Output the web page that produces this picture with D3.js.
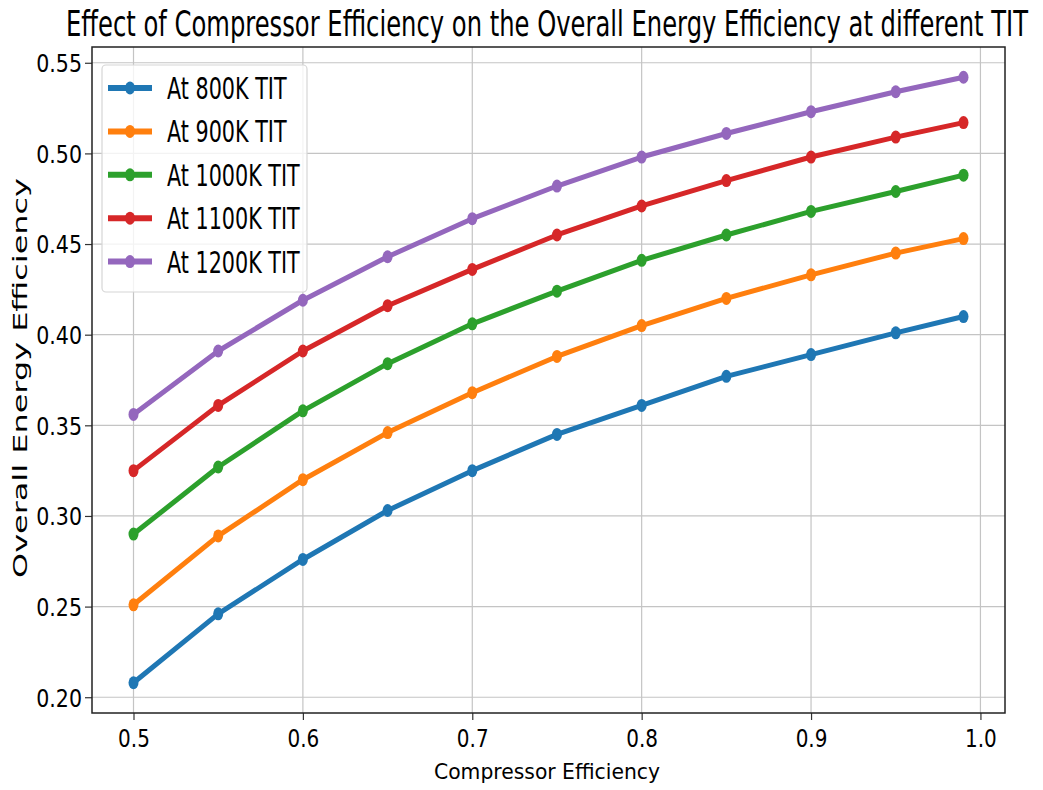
<!DOCTYPE html>
<html>
<head>
<meta charset="utf-8">
<script src="https://cdn.jsdelivr.net/npm/d3@7"></script>
<style>
  body { margin: 0; background: #fff; }
  text { font-family: "DejaVu Sans", sans-serif; fill: #000; }
</style>
</head>
<body>
<svg id="chart" width="1043" height="790"></svg>
<script>
// compressor efficiency (x) and overall energy efficiency per TIT
const compEff = [0.5, 0.55, 0.6, 0.65, 0.7, 0.75, 0.8, 0.85, 0.9, 0.95, 0.99];
const tit800  = [0.208, 0.246, 0.276, 0.303, 0.325, 0.345, 0.361, 0.377, 0.389, 0.401, 0.410];
const tit900  = [0.251, 0.289, 0.320, 0.346, 0.368, 0.388, 0.405, 0.420, 0.433, 0.445, 0.453];
const tit1000 = [0.290, 0.327, 0.358, 0.384, 0.406, 0.424, 0.441, 0.455, 0.468, 0.479, 0.488];
const tit1100 = [0.325, 0.361, 0.391, 0.416, 0.436, 0.455, 0.471, 0.485, 0.498, 0.509, 0.517];
const tit1200 = [0.356, 0.391, 0.419, 0.443, 0.464, 0.482, 0.498, 0.511, 0.523, 0.534, 0.542];
const seriesNames = ["At 800K TIT", "At 900K TIT", "At 1000K TIT", "At 1100K TIT", "At 1200K TIT"];
const xTicks = [0.5, 0.6, 0.7, 0.8, 0.9, 1.0];
const yTicks = [0.20, 0.25, 0.30, 0.35, 0.40, 0.45, 0.50, 0.55];

const series = [tit800, tit900, tit1000, tit1100, tit1200].map((vals, i) => ({
  name: seriesNames[i],
  values: vals.map((v, j) => ({ x: compEff[j], y: v }))
}));

const colors = d3.scaleOrdinal()
  .domain(seriesNames)
  .range(["#1f77b4", "#ff7f0e", "#2ca02c", "#d62728", "#9467bd"]);

const svg = d3.select('#chart');
const plotL = 92, plotR = 1005, plotT = 47, plotB = 713;

// squeeze text horizontally, the reference glyphs are narrow
function squeeze(sel, k) {
  sel.each(function () {
    const w = this.getComputedTextLength();
    d3.select(this).attr('textLength', w * k).attr('lengthAdjust', 'spacingAndGlyphs');
  });
}

// matplotlib-style 5% margins
const xMin = d3.min(compEff), xMax = d3.max(compEff);
const allY = [].concat(tit800, tit900, tit1000, tit1100, tit1200);
const yMin = d3.min(allY), yMax = d3.max(allY);
const xPad = (xMax - xMin) * 0.05, yPad = (yMax - yMin) * 0.05;

const xScale = d3.scaleLinear().domain([xMin - xPad, xMax + xPad]).range([plotL, plotR]);
const yScale = d3.scaleLinear().domain([yMin - yPad, yMax + yPad]).range([plotB, plotT]);

// grid
svg.append('g')
  .selectAll('line')
  .data(xTicks)
  .join('line')
  .attr('x1', d => xScale(d)).attr('x2', d => xScale(d))
  .attr('y1', plotT).attr('y2', plotB)
  .attr('stroke', '#c4c4c4').attr('stroke-width', 1.2);

svg.append('g')
  .selectAll('line')
  .data(yTicks)
  .join('line')
  .attr('x1', plotL).attr('x2', plotR)
  .attr('y1', d => yScale(d)).attr('y2', d => yScale(d))
  .attr('stroke', '#c4c4c4').attr('stroke-width', 1.2);

// axes
const xAxis = d3.axisBottom(xScale).tickValues(xTicks).tickFormat(d3.format('.1f')).tickSizeOuter(0).tickSize(7);
const yAxis = d3.axisLeft(yScale).tickValues(yTicks).tickFormat(d3.format('.2f')).tickSizeOuter(0).tickSize(7);

const gx = svg.append('g').attr('transform', `translate(0, ${plotB})`).call(xAxis);
gx.select('.domain').remove();
gx.selectAll('line').attr('stroke', '#333').attr('stroke-width', 1.2);
gx.selectAll('text')
  .attr('font-family', 'DejaVu Sans').attr('font-size', 25)
  .attr('y', 34).attr('dy', 0).attr('fill', '#000')
  .call(squeeze, 0.8);

const gy = svg.append('g').attr('transform', `translate(${plotL}, 0)`).call(yAxis);
gy.select('.domain').remove();
gy.selectAll('line').attr('stroke', '#333').attr('stroke-width', 1.2);
gy.selectAll('text')
  .attr('font-family', 'DejaVu Sans').attr('font-size', 24.5)
  .attr('x', -10).attr('dy', '0.36em').attr('fill', '#000')
  .call(squeeze, 0.84);

// frame
svg.append('rect')
  .attr('x', plotL).attr('y', plotT)
  .attr('width', plotR - plotL).attr('height', plotB - plotT)
  .attr('fill', 'none').attr('stroke', '#222').attr('stroke-width', 1.5);

// lines + markers
const line = d3.line().x(d => xScale(d.x)).y(d => yScale(d.y));

const sg = svg.append('g').selectAll('g').data(series).join('g');
sg.append('path')
  .attr('d', d => line(d.values))
  .attr('fill', 'none')
  .attr('stroke', d => colors(d.name))
  .attr('stroke-width', 5)
  .attr('stroke-linejoin', 'round');
sg.selectAll('ellipse')
  .data(d => d.values.map(v => ({ ...v, name: d.name })))
  .join('ellipse')
  .attr('cx', d => xScale(d.x)).attr('cy', d => yScale(d.y))
  .attr('rx', 5).attr('ry', 6.5)
  .attr('fill', d => colors(d.name));

// legend
const legend = svg.append('g');
legend.append('rect')
  .attr('x', 102).attr('y', 65).attr('width', 205).attr('height', 227)
  .attr('rx', 4)
  .attr('fill', 'rgba(255,255,255,0.8)')
  .attr('stroke', '#d6d6d6').attr('stroke-width', 1.2);

const items = legend.selectAll('g').data(seriesNames).join('g')
  .attr('transform', (d, i) => `translate(0, ${88 + i * 43.4})`);
items.append('line')
  .attr('x1', 108).attr('x2', 152).attr('y1', 0).attr('y2', 0)
  .attr('stroke', d => colors(d)).attr('stroke-width', 6);
items.append('ellipse')
  .attr('cx', 130).attr('cy', 0).attr('rx', 5).attr('ry', 6.5)
  .attr('fill', d => colors(d));
items.append('text')
  .attr('x', 167).attr('y', 11)
  .attr('font-size', 30)
  .text(d => d)
  .call(squeeze, 0.69);

// title and axis labels
svg.append('text')
  .attr('x', 547).attr('y', 36)
  .attr('text-anchor', 'middle')
  .attr('font-size', 35)
  .attr('textLength', 962).attr('lengthAdjust', 'spacingAndGlyphs')
  .text('Effect of Compressor Efficiency on the Overall Energy Efficiency at different TIT');

svg.append('text')
  .attr('x', 547).attr('y', 779)
  .attr('text-anchor', 'middle')
  .attr('font-size', 22)
  .attr('textLength', 226).attr('lengthAdjust', 'spacingAndGlyphs')
  .text('Compressor Efficiency');

svg.append('text')
  .attr('transform', 'translate(27, 378) rotate(-90)')
  .attr('text-anchor', 'middle')
  .attr('font-size', 20)
  .attr('textLength', 400).attr('lengthAdjust', 'spacingAndGlyphs')
  .text('Overall Energy Efficiency');
</script>
</body>
</html>
